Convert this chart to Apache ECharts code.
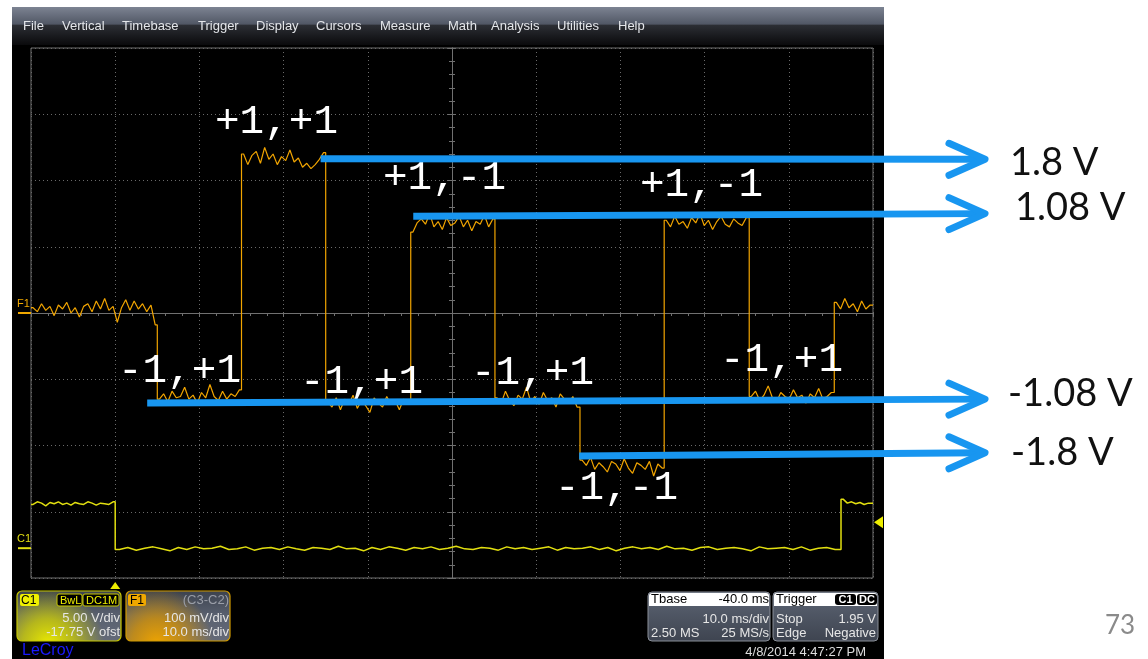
<!DOCTYPE html>
<html><head><meta charset="utf-8">
<script src="https://cdn.jsdelivr.net/npm/echarts@6/dist/echarts.min.js"></script>
<style>html,body{margin:0;padding:0;background:#fff;}#c{width:1148px;height:659px;}</style>
</head><body><div id="c"></div>
<script>
// ---------------- DATA ----------------
const menuItems = ['File','Vertical','Timebase','Trigger','Display','Cursors','Measure','Math','Analysis','Utilities','Help'];

// F1 (C3-C2) trace, mV, 100 mV/div; segment boundaries in ms
const f1Edges = [-10, 5, 15, 25, 35.1, 45.1, 55.2, 65.2, 75.3, 85.4, 90];
const f1Seg0 = [8,2,14,4,10,-4,12,6,16,0,8,-6,10,14,2,18,6,22,4,10,-14,8,20,4,18,6,14,2,12,-18];
const f1Seg1 = [-130,-122,-134,-118,-128,-126,-112,-130,-124,-136,-120,-128,-108,-126,-132,-118,-130,-122,-126,-116];
const f1Seg2 = [240,224,238,244,226,250,232,240,224,236,230,246,228,234,220,226,218,224,232,242];
const f1Seg3 = [-134,-142,-128,-146,-130,-138,-124,-144,-132,-140,-150,-128,-136,-142,-126,-138,-132,-146,-130,-136];
const f1Seg4 = [122,136,142,134,150,130,138,126,144,132,136,146,130,140,124,138,134,148,130,142];
const f1Seg5 = [-128,-136,-118,-132,-140,-124,-130,-112,-134,-126,-138,-120,-132,-128,-142,-122,-130,-136,-126,-142];
const f1Seg6 = [-222,-230,-218,-236,-226,-232,-240,-224,-228,-238,-220,-234,-242,-226,-230,-236,-224,-246,-228,-234];
const f1Seg7 = [140,130,146,134,138,128,144,136,150,132,140,126,138,146,134,130,142,136,132,144];
const f1Seg8 = [-126,-118,-132,-124,-110,-128,-134,-120,-126,-130,-116,-128,-124,-136,-122,-128,-114,-130,-126,-120];
const f1Seg9 = [16,6,22,8,14,2,18,6,12];
const f1Segments = [f1Seg0,f1Seg1,f1Seg2,f1Seg3,f1Seg4,f1Seg5,f1Seg6,f1Seg7,f1Seg8,f1Seg9];
const f1Step = 0.5;

// C1 trace, volts, 5 V/div, offset -17.75 V
const c1Edges = [-10, 0, 86.2, 90];
const c1Seg0 = [3.3,3.5,3.4,3.2,3.45,3.35,3.5,3.3,3.4,3.25,3.45,3.35,3.3,3.5,3.4,3.25,3.4,3.35,3.3,3.5];
const c1Seg1 = [-0.1,0.05,-0.15,0,0.1,-0.05,-0.2,0.05,-0.1,0.1,
 -0.05,0,0.15,-0.1,-0.05,0.1,-0.15,0,0.05,-0.1,
 0.1,-0.05,-0.15,0.05,0,-0.1,0.15,-0.05,0,-0.2,
 0.05,-0.1,0.1,0,-0.15,0.05,-0.05,0.1,-0.1,0,
 0.15,-0.05,-0.1,0.05,0,-0.15,0.1,-0.05,0.05,-0.1,
 0,0.1,-0.15,0.05,-0.05,0,0.1,-0.1,0.05,-0.2,
 0,0.1,-0.05,0.05,-0.1,0.15,-0.05,0,-0.15,0.05,
 0.1,-0.1,0,0.05,-0.05,-0.2,0.1,-0.05,0,0.05,
 -0.1,0.1,-0.15,0,0.05,-0.1];
const c1Seg2 = [3.7,3.4,3.5,3.35,3.45,3.3,3.4];
const c1Segments = [c1Seg0, c1Seg1, c1Seg2];
const c1Steps = [0.5, 1, 0.5];
const c1Trigger = 1.95; // V

// axis ranges
const timeMin = -10, timeMax = 90, timeDiv = 10;      // ms
const f1Min = -400, f1Max = 400, f1Div = 100;         // mV
const c1Min = -2.25, c1Max = 37.75;                   // V

// annotations
const stateLabels = ['+1,+1','+1,-1','+1,-1','-1,+1','-1,+1','-1,+1','-1,+1','-1,-1'];
const arrowLabels = ['1.8 V','1.08 V','-1.08 V','-1.8 V'];
const arrowStartTime = [24.4, 35.4, 3.8, 55.1];   // ms
const arrowEndTime = 103.3;                        // ms (beyond screen)
const arrowStartLevel = [233, 146, -136, -216];   // mV
const arrowEndLevel = [232, 150, -130, -211];     // mV

// ---------------- BUILD SERIES ----------------
function buildTrace(edges, segments, steps) {
  const out = [];
  segments.forEach((seg, i) => {
    const t0 = edges[i];
    const st = Array.isArray(steps) ? steps[i] : steps;
    out.push([t0, seg[0]]);
    seg.forEach((v, j) => out.push([t0 + st / 2 + j * st, v]));
    out.push([edges[i + 1], seg[seg.length - 1]]);
  });
  return out;
}
const f1Data = buildTrace(f1Edges, f1Segments, f1Step);
const c1Data = buildTrace(c1Edges, c1Segments, c1Steps);

const chart = echarts.init(document.getElementById('c'), null, {renderer: 'canvas', width: 1148, height: 659});
const gridCol = '#707070';
const hiddenAxisParts = {axisLabel: {show: false}, splitLine: {show: false}, axisTick: {show: false}};

chart.setOption({
  animation: false,
  backgroundColor: '#ffffff',
  grid: {left: 31, top: 48, width: 842, height: 530, show: true, backgroundColor: '#000', borderColor: gridCol, borderWidth: 1, containLabel: false},
  xAxis: [
    {type: 'value', min: timeMin, max: timeMax, interval: timeDiv,
     axisLine: {show: true, onZero: true, onZeroAxisIndex: 0, lineStyle: {color: gridCol, width: 1}},
     axisTick: {show: true, inside: false, length: 4, lineStyle: {color: gridCol}},
     minorTick: {show: true, splitNumber: 5, length: 3, lineStyle: {color: gridCol}},
     axisLabel: {show: false},
     splitLine: {show: true, lineStyle: {color: '#6a6a6a', type: [1, 3], width: 1}}},
    Object.assign({type: 'value', min: -50, max: 50, axisLine: {show: false, onZero: false}}, hiddenAxisParts),
    {type: 'value', min: timeMin, max: timeMax, interval: timeDiv,
     axisLine: {show: true, onZero: true, onZeroAxisIndex: 0, lineStyle: {color: gridCol}},
     axisTick: {show: true, inside: true, length: 4, lineStyle: {color: gridCol}},
     minorTick: {show: true, splitNumber: 5, length: 3, lineStyle: {color: gridCol}},
     axisLabel: {show: false}, splitLine: {show: false}}
  ],
  yAxis: [
    {type: 'value', min: f1Min, max: f1Max, interval: f1Div,
     axisLine: {show: false, onZero: false}, axisTick: {show: false}, axisLabel: {show: false},
     splitLine: {show: true, lineStyle: {color: '#6a6a6a', type: [1, 3], width: 1}}},
    Object.assign({type: 'value', min: c1Min, max: c1Max, axisLine: {show: false, onZero: false}}, hiddenAxisParts),
    {type: 'value', min: -4, max: 4, interval: 1,
     axisLine: {show: true, onZero: true, onZeroAxisIndex: 1, lineStyle: {color: gridCol}},
     axisTick: {show: true, inside: false, length: 4, lineStyle: {color: gridCol}},
     minorTick: {show: true, splitNumber: 5, length: 3, lineStyle: {color: gridCol}},
     axisLabel: {show: false}, splitLine: {show: false}},
    {type: 'value', min: -4, max: 4, interval: 1,
     axisLine: {show: true, onZero: true, onZeroAxisIndex: 1, lineStyle: {color: gridCol}},
     axisTick: {show: true, inside: true, length: 4, lineStyle: {color: gridCol}},
     minorTick: {show: true, splitNumber: 5, length: 3, lineStyle: {color: gridCol}},
     axisLabel: {show: false}, splitLine: {show: false}}
  ],
  series: [
    {name: 'F1', type: 'line', xAxisIndex: 0, yAxisIndex: 0, data: f1Data, showSymbol: false, symbol: 'none',
     lineStyle: {color: '#f2a500', width: 1.2}, z: 4},
    {name: 'C1', type: 'line', xAxisIndex: 0, yAxisIndex: 1, data: c1Data, showSymbol: false, symbol: 'none',
     lineStyle: {color: '#e2df10', width: 1.5}, z: 3}
  ]
});

// ---------------- GRAPHICS ----------------
const P = (si, pt) => chart.convertToPixel({seriesIndex: si}, pt);
const FONT = '"Liberation Sans", Arial, sans-serif';
function txt(x, y, text, opt) {
  opt = opt || {};
  return {type: 'text', x: x, y: y, z: opt.z || 20, style: {text: text, fill: opt.fill || '#e6e6e6',
    font: opt.font || ('13px ' + FONT), textAlign: opt.align || 'left', align: opt.align || 'left',
    textVerticalAlign: 'middle', verticalAlign: 'middle'}};
}
function rect(x, y, w, h, fill, opt) {
  opt = opt || {};
  return {type: 'rect', z: opt.z || 15, shape: {x: x, y: y, width: w, height: h, r: opt.r || 0},
    style: {fill: fill, stroke: opt.stroke || null, lineWidth: opt.lw || 1}};
}
const els = [];
// screenshot background
els.push(Object.assign(rect(12, 7, 872, 652, '#000'), {z: -1}));
// menu bar
els.push(Object.assign(rect(12, 7, 872, 38, {type: 'linear', x: 0, y: 0, x2: 0, y2: 1,
  colorStops: [{offset: 0, color: '#7c8392'}, {offset: 0.45, color: '#515765'}, {offset: 0.48, color: '#2c2e34'}, {offset: 1, color: '#0a0a0c'}]}), {z: -1}));
const menuX = [23, 62, 122, 198, 256, 316, 380, 448, 491, 557, 618];
menuItems.forEach((m, i) => els.push(txt(menuX[i], 26, m, {fill: '#e4e6ea', font: '13px ' + FONT})));

// channel ground markers
const f1Zero = P(0, [timeMin, 0]);
const c1Zero = P(1, [timeMin, 0]);
els.push(txt(17, f1Zero[1] - 9, 'F1', {fill: '#f0a800', font: '11px ' + FONT}));
els.push({type: 'line', z: 20, shape: {x1: 18, y1: f1Zero[1], x2: 31, y2: f1Zero[1]}, style: {stroke: '#f0a800', lineWidth: 2}});
els.push(txt(17, c1Zero[1] - 9, 'C1', {fill: '#e2df10', font: '11px ' + FONT}));
els.push({type: 'line', z: 20, shape: {x1: 18, y1: c1Zero[1], x2: 31, y2: c1Zero[1]}, style: {stroke: '#e2df10', lineWidth: 2}});
// trigger level marker (right) and trigger position (bottom)
const trg = P(1, [timeMax, c1Trigger]);
els.push({type: 'polygon', z: 20, shape: {points: [[trg[0] + 1, trg[1]], [trg[0] + 10, trg[1] - 6], [trg[0] + 10, trg[1] + 6]]}, style: {fill: '#eeee00'}});
const t0px = P(0, [0, f1Min]);
els.push({type: 'polygon', z: 20, shape: {points: [[t0px[0], t0px[1] + 4], [t0px[0] - 5, t0px[1] + 11], [t0px[0] + 5, t0px[1] + 11]]}, style: {fill: '#eeee00'}});

// ---- bottom boxes ----
const baseGrad = {type: 'linear', x: 0, y: 0, x2: 0, y2: 1, colorStops: [{offset: 0, color: '#3c424e'}, {offset: 0.5, color: '#5a6170'}, {offset: 1, color: '#646a78'}]};
// C1 box
els.push(rect(17, 591, 104, 50, baseGrad, {r: 5}));
els.push(rect(17, 591, 104, 50, {type: 'radial', x: 0.3, y: 1.05, r: 1.1, colorStops: [{offset: 0, color: 'rgba(235,235,0,1)'}, {offset: 0.45, color: 'rgba(210,210,0,0.75)'}, {offset: 1, color: 'rgba(200,200,0,0)'}]}, {r: 5, stroke: '#c8c800', lw: 1.2, z: 16}));
els.push(rect(20, 594, 19, 12, '#f0f000', {r: 2, z: 17}));
els.push(txt(21, 600.5, 'C1', {fill: '#000', font: '12px ' + FONT}));
els.push(rect(57, 594, 25, 12, '#000', {r: 2, stroke: '#c8c800', z: 17}));
els.push(txt(60, 600.5, 'BwL', {fill: '#f0f000', font: '11px ' + FONT}));
els.push(rect(83, 594, 36, 12, '#000', {r: 2, stroke: '#c8c800', z: 17}));
els.push(txt(86, 600.5, 'DC1M', {fill: '#f0f000', font: '11px ' + FONT}));
els.push(txt(120, 618, '5.00 V/div', {align: 'right'}));
els.push(txt(120, 632, '-17.75 V ofst', {align: 'right'}));
// F1 box
els.push(rect(126, 591, 104, 50, baseGrad, {r: 5}));
els.push(rect(126, 591, 104, 50, {type: 'radial', x: 0.3, y: 1.05, r: 1.1, colorStops: [{offset: 0, color: 'rgba(240,165,0,1)'}, {offset: 0.45, color: 'rgba(220,150,0,0.75)'}, {offset: 1, color: 'rgba(220,150,0,0)'}]}, {r: 5, stroke: '#d09a00', lw: 1.2, z: 16}));
els.push(rect(128, 594, 18, 12, '#f0a800', {r: 2, z: 17}));
els.push(txt(130, 600.5, 'F1', {fill: '#000', font: '12px ' + FONT}));
els.push(txt(229, 600.5, '(C3-C2)', {align: 'right', fill: '#9a9ea8'}));
els.push(txt(229, 618, '100 mV/div', {align: 'right'}));
els.push(txt(229, 632, '10.0 ms/div', {align: 'right'}));
els.push(txt(22, 651, 'LeCroy', {fill: '#1a1aff', font: '16px ' + FONT}));
// Timebase box
const grayGrad = {type: 'linear', x: 0, y: 0, x2: 0, y2: 1, colorStops: [{offset: 0, color: '#5d6574'}, {offset: 1, color: '#3e4450'}]};
els.push(rect(648, 592, 122, 49, grayGrad, {r: 4, stroke: '#8a8f98'}));
els.push(rect(649, 593, 120, 13, '#ffffff', {r: [3, 3, 0, 0], z: 16}));
els.push(txt(651, 599.5, 'Tbase', {fill: '#000'}));
els.push(txt(769, 599.5, '-40.0 ms', {fill: '#000', align: 'right'}));
els.push(txt(769, 619, '10.0 ms/div', {align: 'right'}));
els.push(txt(651, 633, '2.50 MS'));
els.push(txt(769, 633, '25 MS/s', {align: 'right'}));
// Trigger box
els.push(rect(773, 592, 105, 49, grayGrad, {r: 4, stroke: '#8a8f98'}));
els.push(rect(774, 593, 103, 13, '#ffffff', {r: [3, 3, 0, 0], z: 16}));
els.push(txt(776, 599.5, 'Trigger', {fill: '#000'}));
els.push(rect(835, 594, 21, 11, '#000', {r: 3, z: 17}));
els.push(txt(845.5, 599.5, 'C1', {fill: '#fff', align: 'center', font: 'bold 11px ' + FONT}));
els.push(rect(857, 594, 20, 11, '#000', {r: 3, z: 17}));
els.push(txt(867, 599.5, 'DC', {fill: '#fff', align: 'center', font: 'bold 11px ' + FONT}));
els.push(txt(776, 619, 'Stop'));
els.push(txt(876, 619, '1.95 V', {align: 'right'}));
els.push(txt(776, 633, 'Edge'));
els.push(txt(876, 633, 'Negative', {align: 'right'}));
els.push(txt(866, 652, '4/8/2014 4:47:27 PM', {align: 'right', fill: '#dcdcdc'}));

// ---- state annotations (white) ----
const stateX = [215, 383, 640, 118, 300, 471, 720, 555];
const stateY = [122, 178, 185, 371, 382, 373, 360, 488];
stateLabels.forEach((s, i) => els.push(txt(stateX[i], stateY[i], s, {fill: '#ffffff', font: '41px "Liberation Mono", "DejaVu Sans Mono", monospace', z: 30})));

// ---- blue arrows ----
const blue = '#1896f0';
const labelX = [1010, 1015, 1008, 1011];
const labelDy = [3, -6, -5, 0];
arrowLabels.forEach((lab, i) => {
  const a = P(0, [arrowStartTime[i], arrowStartLevel[i]]);
  const b = P(0, [arrowEndTime, arrowEndLevel[i]]);
  els.push({type: 'line', z: 40, shape: {x1: a[0], y1: a[1], x2: b[0] - 3, y2: b[1]}, style: {stroke: blue, lineWidth: 7, lineCap: 'butt'}});
  els.push({type: 'polyline', z: 40, shape: {points: [[b[0] - 36, b[1] - 16], [b[0], b[1]], [b[0] - 36, b[1] + 16]]},
    style: {stroke: blue, lineWidth: 7, lineCap: 'round', lineJoin: 'round', fill: null}});
  els.push(txt(labelX[i], b[1] + labelDy[i], lab, {fill: '#111', font: '38px Lato, "Open Sans", sans-serif', z: 40}));
});
els.push(txt(1105, 626, '73', {fill: '#8a8a8a', font: '26px Lato, "Open Sans", sans-serif'}));

chart.setOption({graphic: {elements: els}});
</script></body></html>
